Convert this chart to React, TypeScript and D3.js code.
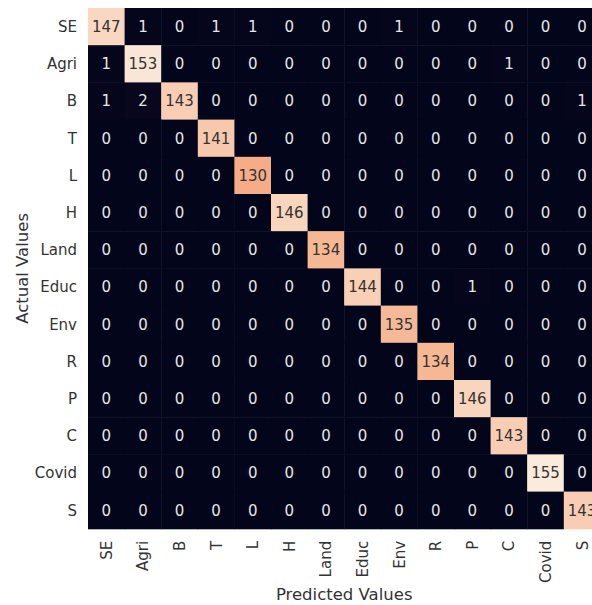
import React from 'react';
import * as d3 from 'd3';

// class labels (same order on both axes)
const labels = ['SE', 'Agri', 'B', 'T', 'L', 'H', 'Land', 'Educ', 'Env', 'R', 'P', 'C', 'Covid', 'S'];

// confusion matrix, rows = actual, cols = predicted
const matrix = [
  [147, 1, 0, 1, 1, 0, 0, 0, 1, 0, 0, 0, 0, 0],
  [1, 153, 0, 0, 0, 0, 0, 0, 0, 0, 0, 1, 0, 0],
  [1, 2, 143, 0, 0, 0, 0, 0, 0, 0, 0, 0, 0, 1],
  [0, 0, 0, 141, 0, 0, 0, 0, 0, 0, 0, 0, 0, 0],
  [0, 0, 0, 0, 130, 0, 0, 0, 0, 0, 0, 0, 0, 0],
  [0, 0, 0, 0, 0, 146, 0, 0, 0, 0, 0, 0, 0, 0],
  [0, 0, 0, 0, 0, 0, 134, 0, 0, 0, 0, 0, 0, 0],
  [0, 0, 0, 0, 0, 0, 0, 144, 0, 0, 1, 0, 0, 0],
  [0, 0, 0, 0, 0, 0, 0, 0, 135, 0, 0, 0, 0, 0],
  [0, 0, 0, 0, 0, 0, 0, 0, 0, 134, 0, 0, 0, 0],
  [0, 0, 0, 0, 0, 0, 0, 0, 0, 0, 146, 0, 0, 0],
  [0, 0, 0, 0, 0, 0, 0, 0, 0, 0, 0, 143, 0, 0],
  [0, 0, 0, 0, 0, 0, 0, 0, 0, 0, 0, 0, 155, 0],
  [0, 0, 0, 0, 0, 0, 0, 0, 0, 0, 0, 0, 0, 143],
];

// seaborn "rocket" colormap, sampled
const rocket = ['#03051a', '#35193e', '#701f57', '#ad1759', '#e13342', '#f37651', '#f6b48f', '#faebdd'];

const W = 592;
const H = 605;
const left = 88;
const top = 8;
const cellW = 36.6;
const cellH = 37.2;
const font = '"DejaVu Sans", sans-serif';

export default function App() {
  const x = d3.scaleBand<string>().domain(labels).range([left, left + cellW * labels.length]);
  const y = d3.scaleBand<string>().domain(labels).range([top, top + cellH * labels.length]);
  const maxV = d3.max(matrix.flat()) as number;
  const color = d3.scaleLinear<string>()
    .domain(rocket.map((_, i) => (i / (rocket.length - 1)) * maxV))
    .range(rocket)
    .interpolate(d3.interpolateRgb);

  const bottom = top + cellH * labels.length;
  const midX = left + (cellW * labels.length) / 2;
  const midY = (top + bottom) / 2;

  return (
    <svg width={W} height={H} style={{ position: 'absolute', left: 0, top: 0 }} fontFamily={font}>
      <rect width={W} height={H} fill="#fff" />
      {/* cells */}
      {matrix.map((row, i) =>
        row.map((v, j) => (
          <g key={`${i}-${j}`}>
            <rect
              x={x(labels[j])}
              y={y(labels[i])}
              width={x.bandwidth() + 0.5}
              height={y.bandwidth() + 0.5}
              fill={color(v)}
            />
            <text
              x={(x(labels[j]) as number) + x.bandwidth() / 2}
              y={(y(labels[i]) as number) + y.bandwidth() / 2}
              dy="0.36em"
              textAnchor="middle"
              fontSize={15}
              fill={v / maxV > 0.6 ? '#333333' : '#e6e6e6'}
            >
              {v}
            </text>
          </g>
        ))
      )}
      {/* y tick labels */}
      {labels.map((l) => (
        <text
          key={`y-${l}`}
          x={left - 11}
          y={(y(l) as number) + y.bandwidth() / 2}
          dy="0.36em"
          textAnchor="end"
          fontSize={15}
          fill="#333"
        >
          {l}
        </text>
      ))}
      {/* x tick labels, rotated */}
      {labels.map((l) => {
        const cx = (x(l) as number) + x.bandwidth() / 2;
        const ty = bottom + 12;
        return (
          <text
            key={`x-${l}`}
            transform={`translate(${cx},${ty}) rotate(-90)`}
            dy="0.36em"
            textAnchor="end"
            fontSize={15}
            fill="#333"
          >
            {l}
          </text>
        );
      })}
      {/* axis titles */}
      <text
        transform={`translate(${22},${midY}) rotate(-90)`}
        dy="0.36em"
        textAnchor="middle"
        fontSize={16.5}
        fill="#333"
      >
        Actual Values
      </text>
      <text x={midX} y={600} textAnchor="middle" fontSize={16.5} fill="#333">
        Predicted Values
      </text>
    </svg>
  );
}
